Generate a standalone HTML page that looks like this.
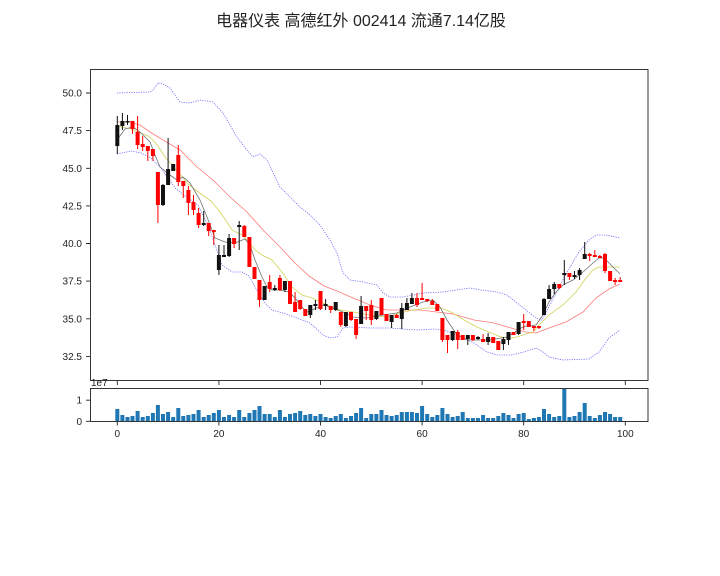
<!DOCTYPE html>
<html><head><meta charset="utf-8"><style>
html,body{margin:0;padding:0;background:#fff}
svg{display:block}
text{font-family:"Liberation Sans","WenQuanYi Zen Hei",sans-serif;fill:#222}
</style></head><body>
<svg width="720" height="576" viewBox="0 0 720 576" xmlns="http://www.w3.org/2000/svg">
<rect width="720" height="576" fill="#fff"/>
<text x="361" y="26" font-size="16" text-anchor="middle" style="font-family:'Liberation Sans','WenQuanYi Zen Hei',sans-serif">电器仪表 高德红外 002414 流通7.14亿股</text>

<!-- lines -->
<g fill="none" stroke-width="0.8">
<polyline stroke="#6a6aff" stroke-dasharray="1.2,1.2" points="117,93 150,92 153,90 158,83 163,84 170,88 180,102 190,103 200,100 213,102 223,113 237,137 247,150 253,157 260,154 267,160 280,187 290,197 300,207 310,215 320,225 330,240 337,253 343,273 350,280 363,282 377,285 383,293 390,297 403,297 413,295 423,293 443,292 470,288 481,290 497,292 507,295 517,303 526,310 536,318 542,320 550,305 560,285 573,262 579,252 589,240 596,235 606,235 620,238"/>
<polyline stroke="#6a6aff" stroke-dasharray="1.2,1.2" points="117,154 131,151 141,153 151,158 161,168 175,188 185,196 198,205 208,225 215,245 222,265 232,272 242,272 249,276 255,287 265,303 272,310 283,313 297,318 310,323 323,335 330,338 337,337 343,328 350,327 370,328 390,328 403,329 417,330 434,329 447,331 461,337 474,343 487,352 497,355 511,355 524,352 536,348 543,352 549,357 563,360 589,359 599,352 609,338 620,330"/>
<polyline stroke="#ff7a7a" points="117,122 130,122 140,125 150,132 163,140 180,150 197,167 213,180 230,197 247,212 263,230 280,247 295,263 309,276 324,286 337,291 353,298 370,305 387,310 403,310 420,310 437,312 453,314 474,320 494,323 511,328 526,332 536,333 549,328 566,322 583,312 596,298 609,289 620,284"/>
<polyline stroke="#d2d25a" points="117,126 131,129 148,136 153,140 158,146 165,157 178,172 188,184 201,194 211,201 220,212 227,222 232,230 242,235 249,242 255,250 262,255 272,260 282,272 292,287 302,295 312,298 327,305 340,310 353,312 370,315 387,317 400,313 413,310 427,308 441,308 451,312 464,320 477,327 491,333 501,337 511,338 517,337 526,334 533,332 539,325 549,315 563,305 576,292 586,278 593,270 599,267 609,267 620,267"/>
<polyline stroke="#707070" points="117,140 125,129 133,127 140,132 150,142 155,155 160,167 170,175 177,180 183,177 190,183 200,200 207,217 215,238 225,242 235,243 245,239 250,245 255,260 262,277 267,287 272,290 279,290 289,292 295,298 302,307 307,312 312,310 319,307 324,305 330,307 343,312 353,317 367,318 383,315 397,313 410,307 423,302 433,300 440,307 447,320 457,335 467,340 481,340 491,340 501,338 507,337 514,333 521,328 526,326 536,325 543,315 549,302 556,292 563,285 573,280 583,272 593,263 599,258 604,258 609,263 620,274"/>
</g>

<!-- black candles -->
<path fill="none" stroke="#111" stroke-width="1" d="M117.3 116V154M122.4 113V130M127.5 115V125M163 184V206M168.1 138V185M173.2 164V171M203.7 211V226M218.9 245V275M224 245V257M229.1 234V257M239.2 221V250M264.6 286V300M274.8 285V291M284.9 281V292M310.3 305V318M315.4 300V310M325.6 299V310M335.7 302V311M345.9 312V327M361.1 296V324M376.4 311V320M391.6 315V328M401.8 303V329M406.9 298V310M411.9 293V304M452.6 331V341M467.8 335V345M478 336V340M488.1 333V345M503.4 337V350M508.5 332V345M518.6 322V335M544 298V315M549.1 285V299M554.2 282V294M564.3 260V285M574.5 271V279M579.6 268V280M584.7 242V259"/>
<path fill="none" stroke="#111" stroke-width="4" d="M117.3 125V146M122.4 121V126M127.5 121V122.5M163 185V205M168.1 169V185M173.2 164V171M203.7 223V225M218.9 255V270M224 255V257M229.1 238V256M239.2 225V227M264.6 286V300M274.8 288V290M284.9 281V290M310.3 305V315M315.4 304V306M325.6 304V306M335.7 302V310M345.9 312V326M361.1 306V324M376.4 311V319M391.6 315V322M401.8 308V319M406.9 303V310M411.9 298V304M452.6 331V340M467.8 335V339M478 337V339M488.1 337V342M503.4 339V344M508.5 332V340M518.6 322V334M544 299V315M549.1 289V299M554.2 284V289M564.3 273V275M574.5 275V277M579.6 270V275M584.7 254V259"/>

<!-- red candles -->
<path fill="none" stroke="#f00" stroke-width="1" d="M132.5 121V134M137.6 116V149M142.7 136V151M147.8 146V161M152.9 149V161M157.9 172V223M178.3 145V186M183.3 181V198M188.4 186V215M193.5 195V215M198.6 208V228M208.7 223V236M213.8 230V245M234.1 238V248M244.3 225V237M249.4 237V267M254.5 267V279M259.5 280V307M269.7 275V292M279.9 275V291M290 281V304M295.1 292V312M300.2 300V310M305.3 309V316M320.5 291V310M330.7 306V313M340.8 312V327M351 312V321M356.1 319V339M366.2 306V320M371.3 300V325M381.5 298V315M386.5 314V321M396.7 314V318M417 293V307M422.1 283V300M427.2 299V302M432.3 299V305M437.3 304V311M442.4 318V342M447.5 335V353M457.7 330V349M462.7 335V340M472.9 335V341M483.1 334V342M493.2 337V343M498.3 341V350M513.5 332V335M523.7 314V330M528.8 321V327M533.9 326V331M538.9 326V329M559.3 284V289M569.4 273V280M589.7 253V261M594.8 250V257M599.9 255V258M605 253V273M610.1 271V281M615.1 278V285M620.2 277V282"/>
<path fill="none" stroke="#f00" stroke-width="4" d="M132.5 121V129M137.6 132V145M142.7 144V147M147.8 146V151M152.9 149V156M157.9 172V205M178.3 155V182M183.3 181V186M188.4 190V203M193.5 202V210M198.6 213V225M208.7 223V231M213.8 230V232M234.1 238V244M244.3 226V237M249.4 237V267M254.5 267V279M259.5 280V300M269.7 282V289M279.9 278V290M290 281V304M295.1 302V312M300.2 300V309M305.3 309V316M320.5 291V309M330.7 306V310M340.8 312V325M351 312V320M356.1 319V335M366.2 306V311M371.3 305V320M381.5 298V315M386.5 314V321M396.7 315V318M417 298V305M422.1 298V300M427.2 299V301M432.3 301V305M437.3 304V311M442.4 318V340M447.5 335V340M457.7 332V340M462.7 335V340M472.9 335V340M483.1 339V342M493.2 337V343M498.3 341V350M513.5 332V335M523.7 321V323M528.8 321V327M533.9 326V328M538.9 326V328M559.3 284V288M569.4 273V277M589.7 254V256M594.8 255V257M599.9 256V258M605 254V271M610.1 271V281M615.1 280V282M620.2 280V282"/>

<!-- main axes frame -->
<rect x="90.5" y="69.5" width="557.5" height="311" fill="none" stroke="#222" stroke-width="0.9"/>
<g stroke="#222" stroke-width="0.9">
<path d="M86 93H90M86 130.6H90M86 168.3H90M86 205.9H90M86 243.5H90M86 281.1H90M86 318.8H90M86 356.4H90"/>
<path d="M117.3 381V385M218.9 381V385M320.5 381V385M422.1 381V385M523.7 381V385M625.3 381V385"/>
</g>
<g font-size="10" text-anchor="end">
<text x="82" y="96.5">50.0</text>
<text x="82" y="134.1">47.5</text>
<text x="82" y="171.8">45.0</text>
<text x="82" y="209.4">42.5</text>
<text x="82" y="247">40.0</text>
<text x="82" y="284.6">37.5</text>
<text x="82" y="322.3">35.0</text>
<text x="82" y="359.9">32.5</text>
</g>

<!-- volume -->
<path fill="none" stroke="#1f77b4" stroke-width="4" d="M117.3 421.3V409M122.4 421.3V415M127.5 421.3V417M132.5 421.3V416M137.6 421.3V411M142.7 421.3V417M147.8 421.3V416M152.9 421.3V413M157.9 421.3V405M163 421.3V414M168.1 421.3V412M173.2 421.3V417M178.3 421.3V408M183.3 421.3V416M188.4 421.3V415M193.5 421.3V414M198.6 421.3V410M203.7 421.3V417M208.7 421.3V415M213.8 421.3V413M218.9 421.3V410M224 421.3V417M229.1 421.3V415M234.1 421.3V417M239.2 421.3V410M244.3 421.3V417M249.4 421.3V413M254.5 421.3V410M259.5 421.3V406M264.6 421.3V414M269.7 421.3V414M274.8 421.3V417M279.9 421.3V410M284.9 421.3V417M290 421.3V414M295.1 421.3V413M300.2 421.3V411M305.3 421.3V415M310.3 421.3V414M315.4 421.3V416M320.5 421.3V414M325.6 421.3V417M330.7 421.3V418M335.7 421.3V416M340.8 421.3V414M345.9 421.3V418M351 421.3V416M356.1 421.3V413M361.1 421.3V408M366.2 421.3V418M371.3 421.3V414M376.4 421.3V414M381.5 421.3V410M386.5 421.3V415M391.6 421.3V416M396.7 421.3V415M401.8 421.3V412M406.9 421.3V412M411.9 421.3V412M417 421.3V413M422.1 421.3V406M427.2 421.3V414M432.3 421.3V417M437.3 421.3V415M442.4 421.3V408M447.5 421.3V414M452.6 421.3V417M457.7 421.3V416M462.7 421.3V412M467.8 421.3V418M472.9 421.3V418M478 421.3V418M483.1 421.3V415M488.1 421.3V418M493.2 421.3V418M498.3 421.3V416M503.4 421.3V413M508.5 421.3V415M513.5 421.3V418M518.6 421.3V414M523.7 421.3V413M528.8 421.3V419M533.9 421.3V418M538.9 421.3V417M544 421.3V409M549.1 421.3V414M554.2 421.3V417M559.3 421.3V416M564.3 421.3V389M569.4 421.3V417M574.5 421.3V416M579.6 421.3V412M584.7 421.3V403M589.7 421.3V416M594.8 421.3V418M599.9 421.3V415M605 421.3V412M610.1 421.3V414M615.1 421.3V417M620.2 421.3V417"/>
<rect x="90.5" y="388.5" width="557.5" height="33" fill="none" stroke="#222" stroke-width="0.9"/>
<g stroke="#222" stroke-width="0.9">
<path d="M86 400.2H90M86 421.3H90"/>
<path d="M117.3 421.5V425.5M218.9 421.5V425.5M320.5 421.5V425.5M422.1 421.5V425.5M523.7 421.5V425.5M625.3 421.5V425.5"/>
</g>
<g font-size="10" text-anchor="end">
<text x="82" y="403.7">1</text>
<text x="82" y="424.8">0</text>
</g>
<text x="91" y="386" font-size="10">1e7</text>
<g font-size="10" text-anchor="middle">
<text x="117.3" y="437">0</text>
<text x="218.9" y="437">20</text>
<text x="320.5" y="437">40</text>
<text x="422.1" y="437">60</text>
<text x="523.7" y="437">80</text>
<text x="625.3" y="437">100</text>
</g>
</svg>
</body></html>
